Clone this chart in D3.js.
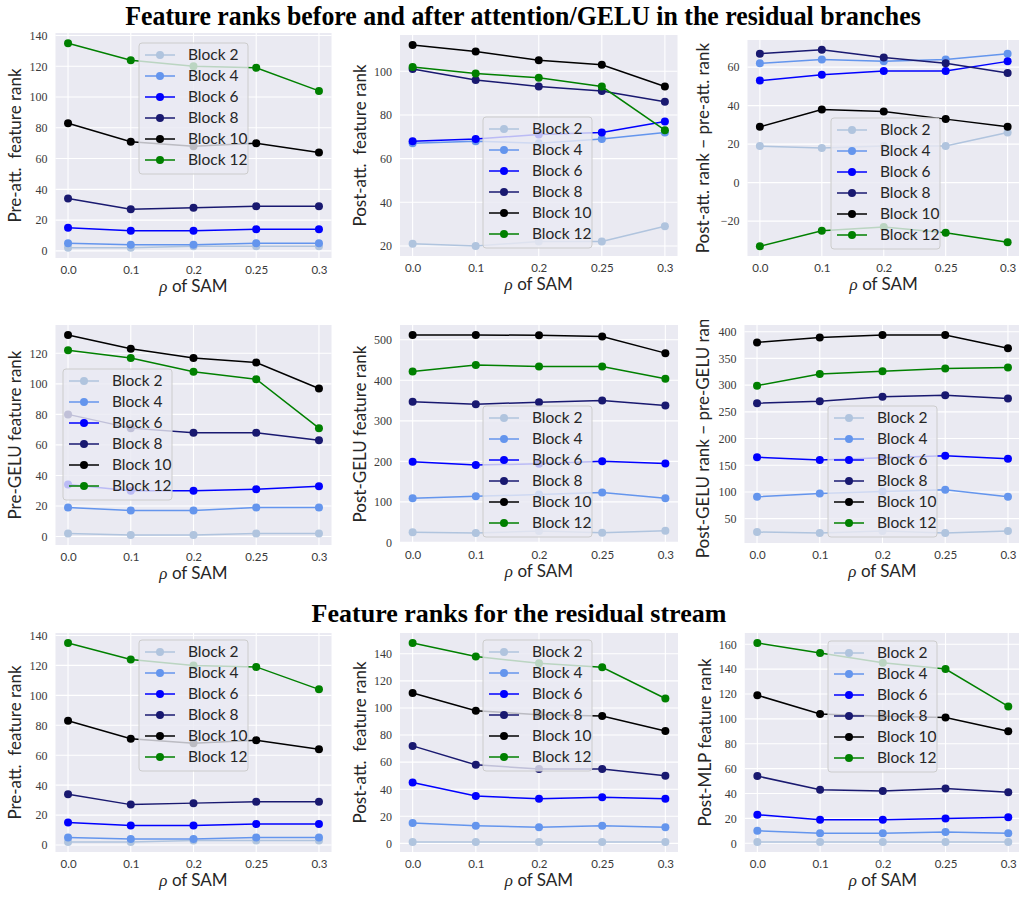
<!DOCTYPE html>
<html>
<head>
<meta charset="utf-8">
<script src="https://cdnjs.cloudflare.com/ajax/libs/d3/7.8.5/d3.min.js"></script>
<style>
body { margin: 0; background: #ffffff; }
</style>
</head>
<body>
<div id="chart-area"></div>
<script>
//categories on the x axis (evenly spaced, not numeric)
var rhoLabels = ["0.0", "0.1", "0.2", "0.25", "0.3"];

//series names and colours
var blocks = ["Block 2", "Block 4", "Block 6", "Block 8", "Block 10", "Block 12"];
var blockColors = ["#b0c4de", "#6495ed", "#0000ff", "#191970", "#000000", "#008000"];

//values, one row per block
var preAtt = [
	[2, 2, 3, 3, 3],
	[5, 4, 4, 5, 5],
	[15, 13, 13, 14, 14],
	[34, 27, 28, 29, 29],
	[83, 71, 68, 70, 64],
	[135, 124, 120, 119, 104]
];
var postAtt = [
	[21, 20, 22, 22, 29],
	[67, 68, 67, 69, 72],
	[68, 69, 71, 72, 77],
	[101, 96, 93, 91, 86],
	[112, 109, 105, 103, 93],
	[102, 99, 97, 93, 73]
];
var attDiff = [
	[19, 18, 19, 19, 26],
	[62, 64, 63, 64, 67],
	[53, 56, 58, 58, 63],
	[67, 69, 65, 62, 57],
	[29, 38, 37, 33, 29],
	[-33, -25, -23, -26, -31]
];
var preGelu = [
	[2, 1, 1, 2, 2],
	[19, 17, 17, 19, 19],
	[34, 30, 30, 31, 33],
	[80, 71, 68, 68, 63],
	[132, 123, 117, 114, 97],
	[122, 117, 108, 103, 71]
];
var postGelu = [
	[25, 23, 28, 24, 29],
	[109, 114, 118, 123, 109],
	[199, 191, 194, 200, 195],
	[347, 341, 346, 350, 338],
	[512, 512, 511, 508, 467],
	[422, 438, 434, 434, 404]
];
var geluDiff = [
	[25, 23, 27, 23, 27],
	[91, 97, 101, 104, 91],
	[165, 160, 164, 168, 162],
	[266, 270, 278, 281, 275],
	[380, 389, 394, 394, 369],
	[299, 321, 326, 331, 333]
];
var residPreAtt = preAtt; //same numbers as the branch plot
var residPostAtt = [
	[1, 1, 1, 1, 1],
	[15, 13, 12, 13, 12],
	[45, 35, 33, 34, 33],
	[72, 58, 55, 55, 50],
	[111, 98, 95, 94, 83],
	[148, 138, 133, 130, 107]
];
var postMlp = [
	[1, 1, 1, 1, 1],
	[10, 8, 8, 9, 8],
	[23, 19, 19, 20, 21],
	[54, 43, 42, 44, 41],
	[119, 104, 102, 101, 90],
	[161, 153, 145, 140, 110]
];

//y tick labels per panel
var ticks0to140 = [0, 20, 40, 60, 80, 100, 120, 140];
var ticksPostAtt = [20, 40, 60, 80, 100];
var ticksAttDiff = [-20, 0, 20, 40, 60];
var ticksPreGelu = [0, 20, 40, 60, 80, 100, 120];
var ticksPostGelu = [0, 100, 200, 300, 400, 500];
var ticksGeluDiff = [50, 100, 150, 200, 250, 300, 350, 400];
var ticksPostMlp = [0, 20, 40, 60, 80, 100, 120, 140, 160];

var yLabels = [
	"Pre-att.  feature rank", "Post-att.  feature rank", "Post-att. rank \u2212 pre-att. rank",
	"Pre-GELU feature rank", "Post-GELU feature rank", "Post-GELU rank \u2212 pre-GELU rank",
	"Pre-att.  feature rank", "Post-att.  feature rank", "Post-MLP feature rank"
];

//panel layout: plot box, legend corner, y label x, top of the cell (for clipping)
var panels = [
	{data: preAtt, ticks: ticks0to140, x0: 55.5, x1: 331.5, y0: 33, y1: 258, lx: 139, ly: 43, labX: 15, top: 28},
	{data: postAtt, ticks: ticksPostAtt, x0: 400, x1: 677.5, y0: 35, y1: 256, lx: 483, ly: 117, labX: 360, top: 28},
	{data: attDiff, ticks: ticksAttDiff, x0: 747.5, x1: 1020, y0: 40, y1: 256, lx: 831, ly: 118, labX: 703, top: 28},
	{data: preGelu, ticks: ticksPreGelu, x0: 55.5, x1: 331.5, y0: 325, y1: 545, lx: 63, ly: 369, labX: 15, top: 320},
	{data: postGelu, ticks: ticksPostGelu, x0: 400, x1: 678, y0: 325, y1: 543, lx: 483, ly: 406, labX: 360, top: 320},
	{data: geluDiff, ticks: ticksGeluDiff, x0: 744.5, x1: 1020.5, y0: 325, y1: 543, lx: 828, ly: 406, labX: 703, top: 320},
	{data: residPreAtt, ticks: ticks0to140, x0: 55.5, x1: 331.5, y0: 633, y1: 852, lx: 139, ly: 640, labX: 15, top: 626},
	{data: residPostAtt, ticks: ticks0to140, x0: 400, x1: 678, y0: 633, y1: 852, lx: 483, ly: 640, labX: 360, top: 626},
	{data: postMlp, ticks: ticksPostMlp, x0: 744.8, x1: 1020.8, y0: 633, y1: 852, lx: 828, ly: 641, labX: 705, top: 626}
];

var sans = "Lato, 'Open Sans', sans-serif";
var serif = "'Liberation Serif', 'Times New Roman', serif";

var svg = d3.select("#chart-area")
	.append("svg")
		.attr("width", 1019)
		.attr("height", 897);

//titles (the original glyphs are a bit condensed)
svg.append("text")
	.attr("transform", "translate(523,25) scale(0.94,1)")
	.attr("text-anchor", "middle")
	.attr("font-family", serif)
	.attr("font-weight", "bold")
	.attr("font-size", 27.5)
	.text("Feature ranks before and after attention/GELU in the residual branches");
svg.append("text")
	.attr("x", 519)
	.attr("y", 622)
	.attr("text-anchor", "middle")
	.attr("font-family", serif)
	.attr("font-weight", "bold")
	.attr("font-size", 26)
	.text("Feature ranks for the residual stream");

panels.forEach((p, i) => {
	var w = p.x1 - p.x0;
	var h = p.y1 - p.y0;

	var g = svg.append("g")
		.attr("transform", "translate(" + p.x0 + "," + p.y0 + ")");

	//scales, 5% margin like matplotlib
	var x = d3.scalePoint()
		.domain(rhoLabels)
		.range([0, w])
		.padding(0.2);
	var all = p.data.flat();
	var lo = d3.min(all), hi = d3.max(all), m = (hi - lo) * 0.05;
	var y = d3.scaleLinear()
		.domain([lo - m, hi + m])
		.range([h, 0]);

	//background + grid
	g.append("rect")
		.attr("width", w)
		.attr("height", h)
		.attr("fill", "#eaeaf2");
	g.append("g").selectAll("line")
		.data(p.ticks)
		.join("line")
			.attr("x1", 0).attr("x2", w)
			.attr("y1", d => y(d)).attr("y2", d => y(d))
			.attr("stroke", "#ffffff")
			.attr("stroke-width", 1.1);
	g.append("g").selectAll("line")
		.data(rhoLabels)
		.join("line")
			.attr("x1", d => x(d)).attr("x2", d => x(d))
			.attr("y1", 0).attr("y2", h)
			.attr("stroke", "#ffffff")
			.attr("stroke-width", 1.1);

	//axes
	var yAxis = g.append("g")
		.call(d3.axisLeft(y).tickValues(p.ticks).tickSize(0).tickPadding(8));
	yAxis.select(".domain").remove();
	yAxis.selectAll("text")
		.attr("font-family", serif)
		.attr("font-size", 12)
		.attr("fill", "#3a3a3a");
	var xAxis = g.append("g")
		.attr("transform", "translate(0," + h + ")")
		.call(d3.axisBottom(x).tickSize(0).tickPadding(8));
	xAxis.select(".domain").remove();
	xAxis.selectAll("text")
		.attr("font-family", sans)
		.attr("font-size", 11.5)
		.attr("fill", "#3a3a3a");

	//labels
	g.append("text")
		.attr("x", w / 2)
		.attr("y", h + 34)
		.attr("text-anchor", "middle")
		.attr("font-family", sans)
		.attr("font-size", 17)
		.attr("fill", "#262626")
		.call(t => {
			t.append("tspan").attr("font-family", serif).attr("font-style", "italic").text("\u03c1");
			t.append("tspan").text(" of SAM");
		});

	//y label, clipped to its own cell (panel 6 runs over the top)
	var clipId = "clip" + i;
	svg.append("clipPath")
		.attr("id", clipId)
		.append("rect")
			.attr("x", 0).attr("y", p.top)
			.attr("width", 1019).attr("height", 300);
	svg.append("g")
		.attr("clip-path", "url(#" + clipId + ")")
		.append("text")
			.attr("transform", "translate(" + p.labX + "," + (p.y0 + h / 2) + ") rotate(-90)")
			.attr("dy", "0.35em")
			.attr("text-anchor", "middle")
			.attr("font-family", sans)
			.attr("font-size", 17)
			.attr("fill", "#262626")
			.style("white-space", "pre")
			.text(yLabels[i]);

	//lines and markers
	var line = d3.line()
		.x((d, j) => x(rhoLabels[j]))
		.y(d => y(d));
	p.data.forEach((series, k) => {
		g.append("path")
			.datum(series)
			.attr("d", line)
			.attr("fill", "none")
			.attr("stroke", blockColors[k])
			.attr("stroke-width", 1.5);
		g.append("g").selectAll("circle")
			.data(series)
			.join("circle")
				.attr("cx", (d, j) => x(rhoLabels[j]))
				.attr("cy", d => y(d))
				.attr("r", 4)
				.attr("fill", blockColors[k]);
	});

	//legend
	var leg = svg.append("g")
		.attr("transform", "translate(" + p.lx + "," + p.ly + ")");
	leg.append("rect")
		.attr("width", 109)
		.attr("height", 131)
		.attr("rx", 3)
		.attr("fill", "#eaeaf2")
		.attr("fill-opacity", 0.8)
		.attr("stroke", "#cccccc")
		.attr("stroke-width", 1);
	var rows = leg.selectAll("g.row")
		.data(blocks)
		.join("g")
			.attr("class", "row")
			.attr("transform", (d, k) => "translate(0," + (12 + k * 21) + ")");
	rows.append("line")
		.attr("x1", 6).attr("x2", 36)
		.attr("stroke", (d, k) => blockColors[k])
		.attr("stroke-width", 1.5);
	rows.append("circle")
		.attr("cx", 21)
		.attr("r", 4)
		.attr("fill", (d, k) => blockColors[k]);
	rows.append("text")
		.attr("x", 49)
		.attr("dy", "0.35em")
		.attr("font-family", sans)
		.attr("font-size", 15.5)
		.attr("fill", "#262626")
		.text(d => d);
});
</script>
</body>
</html>
